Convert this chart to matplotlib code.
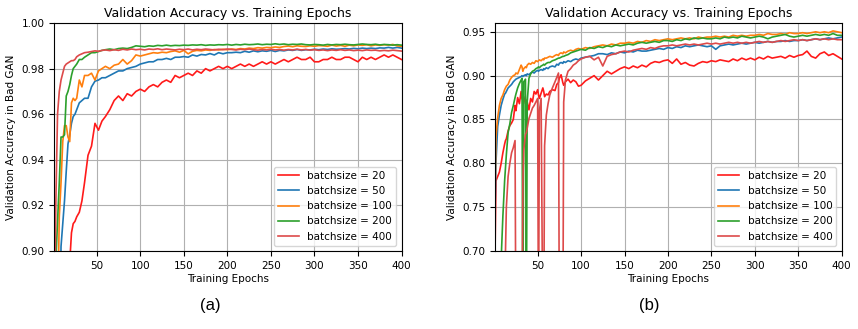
import numpy as np
import matplotlib.pyplot as plt

# ---- data ----
labels = ['batchsize = 20', 'batchsize = 50', 'batchsize = 100',
          'batchsize = 200', 'batchsize = 400']
colors = ['#ff1a1a', '#1f77b4', '#ff7f0e', '#2ca02c', '#dd4a4a']

# panel (a)
epochs_a = [1, 3, 5, 7, 9, 11, 13, 15, 17, 19, 21, 23, 25, 27, 30, 33, 36, 40,
            44, 48, 52, 56] + list(range(60, 401, 5))

bs20_a = [0.85, 0.85, 0.85, 0.85, 0.85, 0.85, 0.85, 0.85, 0.86, 0.895, 0.908,
          0.912, 0.913, 0.915, 0.917, 0.922, 0.930, 0.942, 0.946, 0.956, 0.953, 0.957,
          0.959, 0.962, 0.966, 0.968, 0.966, 0.969, 0.968, 0.970, 0.971, 0.970,
          0.972, 0.973, 0.972, 0.974, 0.975, 0.974, 0.977, 0.976, 0.977, 0.978,
          0.977, 0.979, 0.978, 0.980, 0.979, 0.980, 0.981, 0.980, 0.981, 0.980,
          0.981, 0.982, 0.981, 0.982, 0.981, 0.982, 0.983, 0.982, 0.983, 0.982,
          0.983, 0.984, 0.983, 0.984, 0.985, 0.984, 0.984, 0.985, 0.983, 0.983,
          0.984, 0.984, 0.985, 0.984, 0.984, 0.985, 0.985, 0.984, 0.983, 0.985,
          0.984, 0.985, 0.984, 0.985, 0.986, 0.985, 0.986, 0.985, 0.984]
bs50_a = [0.85, 0.85, 0.85, 0.85, 0.902, 0.912, 0.922, 0.935, 0.947, 0.951, 0.956,
          0.959, 0.960, 0.962, 0.965, 0.966, 0.967, 0.967, 0.972, 0.9745, 0.975, 0.976,
          0.976, 0.977, 0.978, 0.979, 0.979, 0.980, 0.9805, 0.981, 0.982, 0.9825,
          0.983, 0.983, 0.984, 0.984, 0.9845, 0.984, 0.985, 0.985, 0.9853, 0.985,
          0.986, 0.9855, 0.9862, 0.986, 0.9866, 0.986, 0.987, 0.9865, 0.987, 0.987,
          0.9872, 0.987, 0.9876, 0.9872, 0.9878, 0.9874, 0.9878, 0.9876, 0.988, 0.9875,
          0.988, 0.9878, 0.9882, 0.988, 0.9884, 0.988, 0.9883, 0.9882, 0.9885, 0.9883,
          0.9886, 0.9884, 0.9887, 0.9885, 0.9886, 0.9888, 0.9886, 0.9889, 0.9887, 0.989,
          0.9888, 0.989, 0.9888, 0.9891, 0.989, 0.9893, 0.989, 0.9893, 0.989]
bs100_a = [0.85, 0.85, 0.87, 0.915, 0.930, 0.948, 0.955, 0.955, 0.950, 0.948, 0.965,
           0.967, 0.966, 0.967, 0.975, 0.972, 0.977, 0.977, 0.978, 0.975, 0.979, 0.980,
           0.981, 0.980, 0.9815, 0.982, 0.984, 0.982, 0.9835, 0.986, 0.9855, 0.986,
           0.9865, 0.987, 0.9868, 0.9872, 0.987, 0.9875, 0.9878, 0.9872, 0.988, 0.9865,
           0.9876, 0.988, 0.9878, 0.9882, 0.988, 0.9884, 0.9882, 0.9885, 0.9883, 0.9886,
           0.9884, 0.9888, 0.9886, 0.989, 0.9888, 0.9892, 0.989, 0.9893, 0.9892, 0.9895,
           0.9893, 0.9897, 0.9899, 0.9896, 0.990, 0.9898, 0.9897, 0.990, 0.9898, 0.9901,
           0.990, 0.9898, 0.9903, 0.9899, 0.9902, 0.9898, 0.9903, 0.990, 0.9904, 0.9902,
           0.9905, 0.990, 0.9904, 0.9902, 0.9905, 0.9903, 0.9906, 0.990, 0.9898]
bs200_a = [0.85, 0.895, 0.913, 0.930, 0.950, 0.950, 0.951, 0.968, 0.970, 0.973, 0.977,
           0.980, 0.981, 0.982, 0.984, 0.984, 0.985, 0.986, 0.987, 0.987, 0.9875, 0.988,
           0.9883, 0.9886, 0.9883, 0.9888, 0.989, 0.9888, 0.9893, 0.990, 0.9898, 0.9896,
           0.990, 0.9898, 0.9902, 0.990, 0.9903, 0.990, 0.9902, 0.9901, 0.9903, 0.9902,
           0.9904, 0.9903, 0.9905, 0.9902, 0.9904, 0.9903, 0.9905, 0.9904, 0.9906, 0.9903,
           0.9906, 0.9904, 0.9907, 0.9905, 0.9906, 0.9908, 0.9905, 0.9907, 0.9906, 0.9909,
           0.9906, 0.9908, 0.9905, 0.9907, 0.9906, 0.9908, 0.9905, 0.9904, 0.9906, 0.9905,
           0.9903, 0.9906, 0.9904, 0.9906, 0.9905, 0.9907, 0.9905, 0.9904, 0.9906, 0.9908,
           0.9906, 0.9905, 0.9907, 0.9904, 0.9906, 0.9905, 0.9903, 0.9905, 0.9903]
bs400_a = [0.85, 0.92, 0.960, 0.970, 0.975, 0.978, 0.981, 0.982, 0.9825, 0.983, 0.9835,
           0.9835, 0.984, 0.9852, 0.986, 0.9865, 0.987, 0.9872, 0.9875, 0.9878, 0.9876, 0.988,
           0.9882, 0.9879, 0.9883, 0.988, 0.9885, 0.9882, 0.9886, 0.9883, 0.9885, 0.9882,
           0.9886, 0.9884, 0.9887, 0.9883, 0.9886, 0.9884, 0.9882, 0.9885, 0.9883, 0.9886,
           0.9882, 0.9885, 0.9883, 0.9886, 0.9884, 0.9882, 0.9885, 0.9883, 0.9886, 0.9884,
           0.9882, 0.9885, 0.9883, 0.9886, 0.9883, 0.9881, 0.9884, 0.9882, 0.9885, 0.9882,
           0.9884, 0.9881, 0.9884, 0.9882, 0.9885, 0.9882, 0.9884, 0.9881, 0.9883, 0.988,
           0.9882, 0.9879, 0.9882, 0.988, 0.9883, 0.988, 0.9882, 0.9879, 0.9881, 0.9879,
           0.9882, 0.988, 0.9881, 0.9878, 0.988, 0.9878, 0.9881, 0.9879, 0.9877]

# panel (b)
epochs_b = [1, 2, 4, 6, 8, 10, 12, 13, 14, 16, 18, 20, 22, 24, 25, 27, 29, 31, 32,
            33, 34, 36, 37, 38, 40, 42, 44, 46, 48, 50, 51, 52, 54, 56, 57, 58, 60,
            62, 64, 67, 70, 72, 74, 75, 77, 79, 80, 82, 85, 88, 91, 94, 97] \
    + list(range(100, 401, 5))

bs20_b = [0.70, 0.78, 0.785, 0.79, 0.80, 0.812, 0.822, 0.826, 0.828, 0.837,
          0.843, 0.846, 0.85, 0.866, 0.86, 0.875, 0.868, 0.882, 0.874, 0.872,
          0.876, 0.868, 0.872, 0.87, 0.861, 0.874, 0.87, 0.882, 0.879, 0.884,
          0.878, 0.874, 0.88, 0.886, 0.882, 0.876, 0.879, 0.878, 0.882, 0.884,
          0.883, 0.89, 0.892, 0.897, 0.901, 0.892, 0.889, 0.893, 0.896, 0.892,
          0.895, 0.893, 0.888,
          0.889, 0.894, 0.897, 0.900, 0.895, 0.900, 0.905, 0.902, 0.905, 0.908,
          0.910, 0.908, 0.911, 0.909, 0.912, 0.910, 0.914, 0.916, 0.915, 0.917,
          0.918, 0.914, 0.919, 0.913, 0.915, 0.912, 0.911, 0.914, 0.916, 0.915,
          0.917, 0.916, 0.918, 0.917, 0.916, 0.919, 0.917, 0.920, 0.918, 0.920,
          0.918, 0.921, 0.919, 0.922, 0.920, 0.921, 0.922, 0.920, 0.923, 0.921,
          0.923, 0.924, 0.928, 0.922, 0.920, 0.925, 0.927, 0.923, 0.925, 0.922,
          0.919]
bs50_b = [0.75, 0.80, 0.842, 0.855, 0.866, 0.873, 0.879, 0.880, 0.882, 0.886,
          0.888, 0.890, 0.893, 0.895, 0.896, 0.897, 0.898, 0.899, 0.900, 0.899,
          0.900, 0.901, 0.900, 0.902, 0.901, 0.903, 0.904, 0.903, 0.905, 0.906,
          0.905, 0.906, 0.907, 0.906, 0.908, 0.907, 0.909, 0.908, 0.910, 0.911,
          0.910, 0.913, 0.912, 0.914, 0.915, 0.914, 0.916, 0.915, 0.917, 0.916,
          0.918, 0.919, 0.918,
          0.920, 0.921, 0.922, 0.923, 0.925, 0.925, 0.924, 0.926, 0.925, 0.927,
          0.926, 0.928, 0.927, 0.929, 0.928, 0.928, 0.929, 0.930, 0.931, 0.930,
          0.932, 0.931, 0.933, 0.932, 0.934, 0.933, 0.934, 0.935, 0.934, 0.933,
          0.934, 0.930, 0.934, 0.935, 0.936, 0.935, 0.936, 0.937, 0.936, 0.937,
          0.938, 0.937, 0.938, 0.939, 0.938, 0.939, 0.939, 0.940, 0.939, 0.940,
          0.940, 0.941, 0.940, 0.941, 0.942, 0.941, 0.942, 0.943, 0.942, 0.943,
          0.944]
bs100_b = [0.76, 0.83, 0.852, 0.866, 0.874, 0.878, 0.884, 0.886, 0.888, 0.890,
           0.895, 0.898, 0.900, 0.901, 0.903, 0.902, 0.907, 0.912, 0.910, 0.905,
           0.908, 0.910, 0.909, 0.912, 0.914, 0.913, 0.915, 0.914, 0.917, 0.916,
           0.917, 0.918, 0.917, 0.919, 0.918, 0.920, 0.920, 0.921, 0.922, 0.921,
           0.923, 0.924, 0.923, 0.925, 0.926, 0.925, 0.927, 0.926, 0.928, 0.929,
           0.928, 0.930, 0.931,
           0.930, 0.932, 0.931, 0.933, 0.934, 0.935, 0.934, 0.936, 0.935, 0.937,
           0.937, 0.938, 0.937, 0.939, 0.938, 0.940, 0.939, 0.941, 0.940, 0.941,
           0.942, 0.941, 0.942, 0.943, 0.942, 0.943, 0.942, 0.944, 0.943, 0.944,
           0.944, 0.945, 0.944, 0.945, 0.944, 0.946, 0.945, 0.946, 0.945, 0.946,
           0.946, 0.947, 0.946, 0.948, 0.947, 0.947, 0.948, 0.947, 0.949, 0.948,
           0.948, 0.949, 0.948, 0.949, 0.950, 0.949, 0.950, 0.949, 0.951, 0.950,
           0.949]
bs200_b = [0.60, 0.60, 0.60, 0.62, 0.69, 0.74, 0.78, 0.795, 0.81, 0.835,
           0.845, 0.858, 0.866, 0.875, 0.879, 0.886, 0.891, 0.895, 0.897, 0.60,
           0.893, 0.896, 0.60, 0.87, 0.897, 0.902, 0.905, 0.906, 0.908, 0.909,
           0.910, 0.909, 0.911, 0.912, 0.913, 0.912, 0.914, 0.915, 0.915, 0.917,
           0.918, 0.919, 0.920, 0.920, 0.921, 0.922, 0.922, 0.923, 0.924, 0.926,
           0.927, 0.928, 0.929,
           0.930, 0.929, 0.932, 0.931, 0.933, 0.932, 0.934, 0.933, 0.935, 0.934,
           0.935, 0.936, 0.935, 0.937, 0.938, 0.937, 0.938, 0.939, 0.938, 0.940,
           0.940, 0.939, 0.941, 0.940, 0.942, 0.941, 0.943, 0.942, 0.943, 0.942,
           0.942, 0.943, 0.942, 0.944, 0.943, 0.944, 0.943, 0.945, 0.944, 0.943,
           0.944, 0.945, 0.944, 0.942, 0.944, 0.945, 0.946, 0.947, 0.945, 0.944,
           0.945, 0.946, 0.945, 0.946, 0.947, 0.946, 0.947, 0.946, 0.948, 0.946,
           0.946]
bs400_b = [0.60, 0.60, 0.60, 0.60, 0.60, 0.60, 0.60, 0.70, 0.75, 0.785,
           0.80, 0.812, 0.818, 0.826, 0.60, 0.60, 0.60, 0.60, 0.62, 0.78,
           0.815, 0.833, 0.835, 0.84, 0.851, 0.857, 0.863, 0.866, 0.870, 0.874,
           0.60, 0.86, 0.874, 0.60, 0.60, 0.82, 0.855, 0.868, 0.878, 0.886,
           0.893, 0.898, 0.903, 0.60, 0.60, 0.60, 0.87, 0.895, 0.905, 0.908,
           0.912, 0.914, 0.917,
           0.919, 0.921, 0.922, 0.918, 0.921, 0.911, 0.922, 0.924, 0.925, 0.927,
           0.928, 0.927, 0.929, 0.930, 0.931, 0.930, 0.932, 0.931, 0.933, 0.934,
           0.934, 0.935, 0.934, 0.935, 0.936, 0.935, 0.936, 0.935, 0.936, 0.937,
           0.936, 0.937, 0.936, 0.937, 0.938, 0.937, 0.938, 0.937, 0.938, 0.937,
           0.938, 0.939, 0.938, 0.939, 0.938, 0.939, 0.940, 0.939, 0.940, 0.941,
           0.940, 0.941, 0.940, 0.941, 0.942, 0.941, 0.942, 0.941, 0.942, 0.941,
           0.941]

series_a = [bs20_a, bs50_a, bs100_a, bs200_a, bs400_a]
series_b = [bs20_b, bs50_b, bs100_b, bs200_b, bs400_b]

plt.rcParams['font.size'] = 7.5

fig = plt.figure(figsize=(8.58, 3.29), dpi=100)
ax_a = fig.add_axes([0.063, 0.237, 0.405, 0.693])
ax_b = fig.add_axes([0.577, 0.237, 0.404, 0.693])

panels = [
    (ax_a, epochs_a, series_a, (0.90, 1.00), np.arange(0.90, 1.001, 0.02), '(a)', 0.245),
    (ax_b, epochs_b, series_b, (0.70, 0.96), np.arange(0.70, 0.951, 0.05), '(b)', 0.757),
]

for ax, ep, series, ylim, yticks, tag, tag_x in panels:
    for vals, lab, col in zip(series, labels, colors):
        ax.plot(ep, vals, color=col, lw=1.2, label=lab)
    ax.set_xlim(1, 400)
    ax.set_ylim(*ylim)
    ax.set_xticks([50, 100, 150, 200, 250, 300, 350, 400])
    ax.set_yticks(yticks)
    ax.set_yticklabels(['%.2f' % t for t in yticks])
    ax.grid(True, color='#b0b0b0', lw=0.8)
    ax.set_axisbelow(True)
    ax.set_title('Validation Accuracy vs. Training Epochs', fontsize=9, pad=4)
    ax.set_xlabel('Training Epochs', labelpad=2)
    ax.set_ylabel('Validation Accuracy in Bad GAN', labelpad=4)
    ax.legend(loc='lower right', fontsize=7.5)
    fig.text(tag_x, 0.058, tag, fontsize=12, family='Liberation Sans', ha='center')

fig.savefig('out.png', dpi=100)
